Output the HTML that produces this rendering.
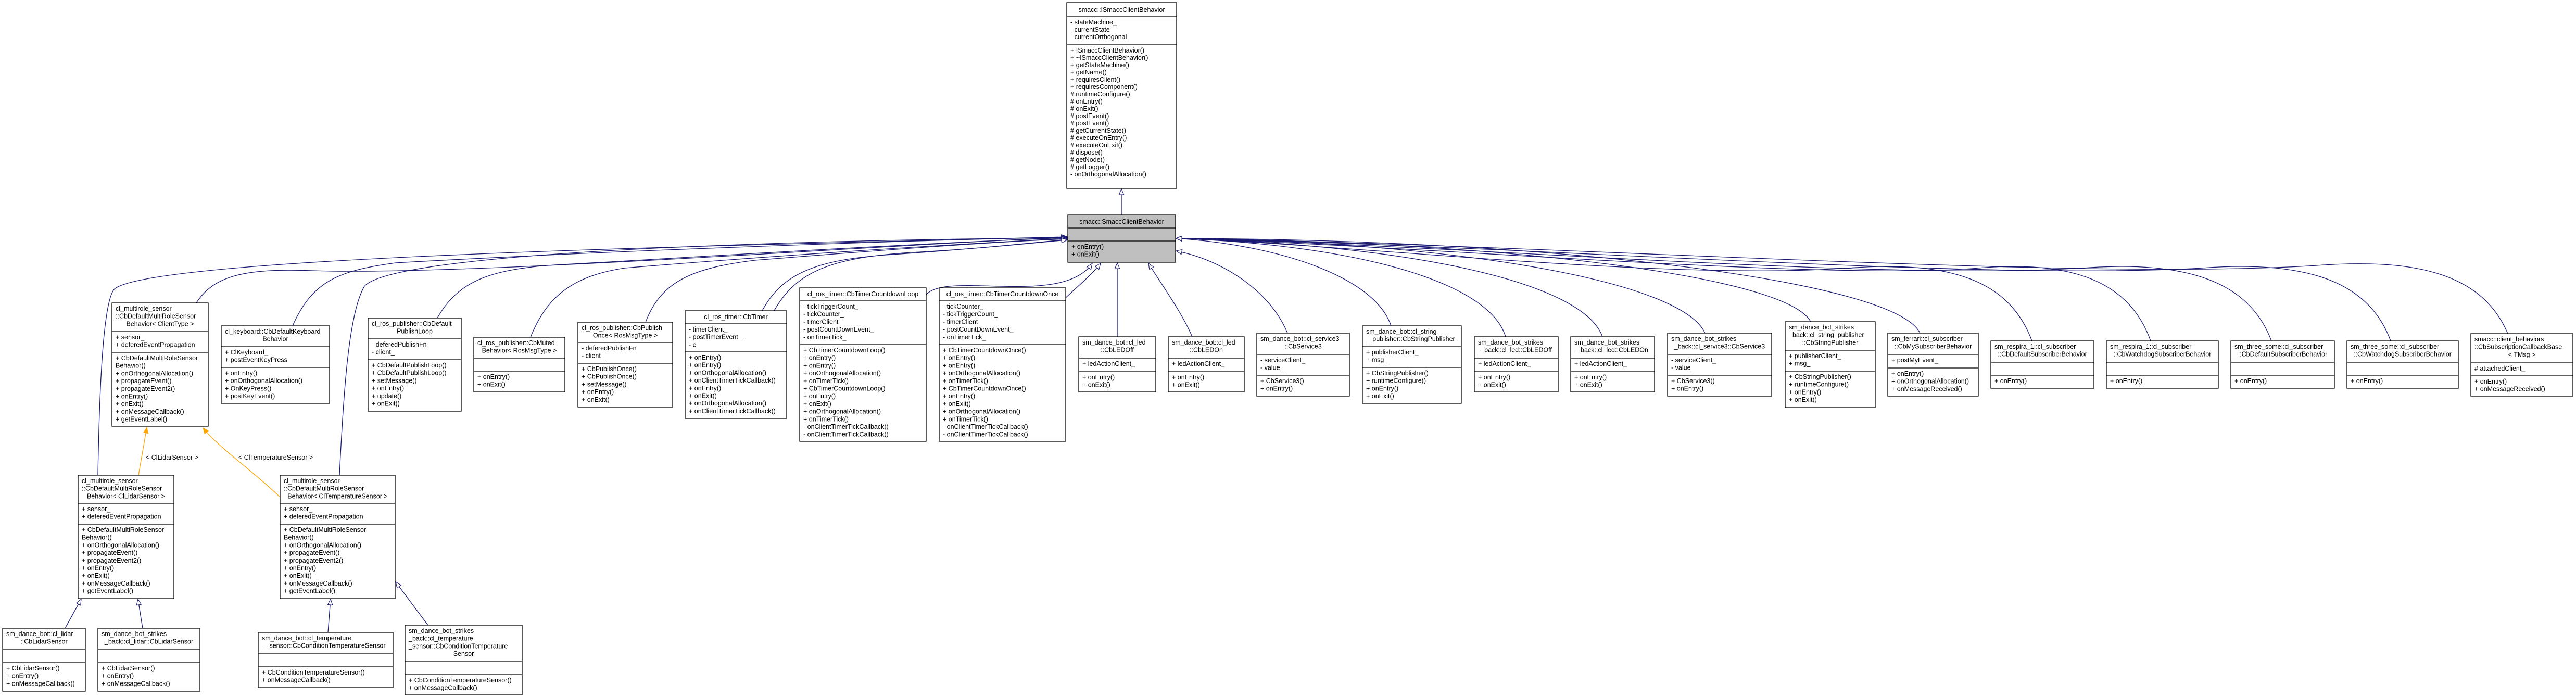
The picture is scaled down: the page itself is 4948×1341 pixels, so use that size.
<!DOCTYPE html>
<html><head><meta charset="utf-8"><style>
html,body{margin:0;padding:0;background:#fff}
svg{display:block}
.b{fill:#fff;stroke:#000;stroke-width:1.3}
.g{fill:#bfbfbf;stroke:#000;stroke-width:1.3}
.d{stroke:#000;stroke-width:1.3}
text{font-family:"Liberation Sans",Arial,sans-serif;font-size:12.5px;fill:#000}
.c{text-anchor:middle}
.e{fill:none;stroke:#191970;stroke-width:1.3}
.o{fill:none;stroke:#ffa500;stroke-width:1.3}
</style></head><body>
<svg width="4948" height="1341" viewBox="0 0 4948 1341" xmlns="http://www.w3.org/2000/svg">
<defs>
<marker id="h" markerWidth="13" markerHeight="11" refX="12" refY="5" orient="auto" markerUnits="userSpaceOnUse" viewBox="-1 -1 14 12"><path d="M0,0 L12,5 L0,10z" fill="#fff" stroke="#191970" stroke-width="1.2"/></marker>
<marker id="oa" markerWidth="13" markerHeight="11" refX="12" refY="5" orient="auto" markerUnits="userSpaceOnUse" viewBox="-1 -1 14 12"><path d="M0,0 L12,5 L0,10z" fill="#ffa500" stroke="#ffa500"/></marker>
</defs>

<!-- edges -->
<path class="e" marker-end="url(#h)" d="M2154,413 L2154,363"/>
<path class="e" marker-end="url(#h)" d="M377,582 C410,530 470,515 600,520 C900,530 1700,470 2050,456"/>
<path class="e" marker-end="url(#h)" d="M188,913 C190,800 195,580 220,555 C300,490 1500,470 2050,455"/>
<path class="e" marker-end="url(#h)" d="M652,913 C660,750 670,600 700,550 C760,480 1600,460 2050,457"/>
<path class="e" marker-end="url(#h)" d="M562,626 C600,540 650,520 760,505 C1200,480 1800,460 2050,456"/>
<path class="e" marker-end="url(#h)" d="M840,611 C880,540 940,520 1050,510 C1400,490 1800,465 2050,457"/>
<path class="e" marker-end="url(#h)" d="M1019,648 C1050,570 1100,530 1200,515 C1500,490 1850,468 2050,458"/>
<path class="e" marker-end="url(#h)" d="M1240,619 C1270,540 1330,515 1450,500 C1700,480 1900,465 2050,459"/>
<path class="e" marker-end="url(#h)" d="M1464,597 C1500,530 1560,500 1700,490 C1850,480 1950,470 2050,460"/>
<path class="e" marker-end="url(#h)" d="M1487,597 C1530,520 1600,495 1750,485 C1880,478 1970,468 2050,461"/>
<path class="e" marker-end="url(#h)" d="M1779,566 C1820,520 2040,590 2098,506"/>
<path class="e" marker-end="url(#h)" d="M2047,572 C2070,550 2095,530 2114,506"/>
<path class="e" marker-end="url(#h)" d="M2146,647 L2146,505"/>
<path class="e" marker-end="url(#h)" d="M2290,647 C2270,600 2230,545 2206,506"/>
<path class="e" marker-end="url(#h)" d="M2473,640 C2440,560 2350,500 2259,482"/>
<path class="e" marker-end="url(#h)" d="M2672,626 C2640,530 2450,470 2259,458"/>
<path class="e" marker-end="url(#h)" d="M2892,647 C2860,540 2600,470 2259,458"/>
<path class="e" marker-end="url(#h)" d="M3078,647 C3040,540 2700,470 2259,458"/>
<path class="e" marker-end="url(#h)" d="M3275,640 C3230,540 2800,465 2259,458"/>
<path class="e" marker-end="url(#h)" d="M3478,618 C3430,530 2900,465 2259,458"/>
<path class="e" marker-end="url(#h)" d="M3688,640 C3640,540 3000,460 2259,458"/>
<path class="e" marker-end="url(#h)" d="M3903,655 C3860,540 3750,500 3550,515 C3200,540 2600,470 2259,458"/>
<path class="e" marker-end="url(#h)" d="M4131,655 C4090,540 3980,500 3800,515 C3500,540 2700,470 2259,458"/>
<path class="e" marker-end="url(#h)" d="M4363,655 C4320,540 4200,500 4000,515 C3600,540 2800,470 2259,458"/>
<path class="e" marker-end="url(#h)" d="M4592,655 C4550,540 4430,500 4230,515 C3800,540 2900,470 2259,458"/>
<path class="e" marker-end="url(#h)" d="M4817,641 C4770,530 4650,495 4450,510 C4000,540 3000,470 2259,458"/>
<path class="e" marker-end="url(#h)" d="M125,1207 L156,1151"/>
<path class="e" marker-end="url(#h)" d="M274,1207 L265,1151"/>
<path class="e" marker-end="url(#h)" d="M630,1215 L635,1151"/>
<path class="e" marker-end="url(#h)" d="M822,1201 L760,1118"/>
<path class="o" marker-end="url(#oa)" d="M266,913 L282,821"/>
<path class="o" marker-end="url(#oa)" d="M538,955 C480,900 420,860 390,822"/>
<text x="280" y="883">&lt; ClLidarSensor &gt;</text>
<text x="458" y="883">&lt; ClTemperatureSensor &gt;</text>

<!-- 1 ISmacc -->
<rect class="b" x="2049" y="5" width="211" height="357"/>
<line class="d" x1="2049" y1="32" x2="2260" y2="32"/><line class="d" x1="2049" y1="86" x2="2260" y2="86"/>
<text class="c" x="2154.5" y="23">smacc::ISmaccClientBehavior</text>
<text x="2056" y="47">- stateMachine_<tspan x="2056" dy="14">- currentState</tspan><tspan x="2056" dy="14">- currentOrthogonal</tspan></text>
<text x="2056" y="101">+ ISmaccClientBehavior()<tspan x="2056" dy="14">+ ~ISmaccClientBehavior()</tspan><tspan x="2056" dy="14">+ getStateMachine()</tspan><tspan x="2056" dy="14">+ getName()</tspan><tspan x="2056" dy="14">+ requiresClient()</tspan><tspan x="2056" dy="14">+ requiresComponent()</tspan><tspan x="2056" dy="14"># runtimeConfigure()</tspan><tspan x="2056" dy="14"># onEntry()</tspan><tspan x="2056" dy="14"># onExit()</tspan><tspan x="2056" dy="14"># postEvent()</tspan><tspan x="2056" dy="14"># postEvent()</tspan><tspan x="2056" dy="14"># getCurrentState()</tspan><tspan x="2056" dy="14"># executeOnEntry()</tspan><tspan x="2056" dy="14"># executeOnExit()</tspan><tspan x="2056" dy="14"># dispose()</tspan><tspan x="2056" dy="14"># getNode()</tspan><tspan x="2056" dy="14"># getLogger()</tspan><tspan x="2056" dy="14">- onOrthogonalAllocation()</tspan></text>

<!-- 2 gray -->
<rect class="g" x="2051" y="413" width="207" height="91"/>
<line class="d" x1="2051" y1="438" x2="2258" y2="438"/><line class="d" x1="2051" y1="463" x2="2258" y2="463"/>
<text class="c" x="2154.5" y="430">smacc::SmaccClientBehavior</text>
<text x="2058" y="478">+ onEntry()<tspan x="2058" dy="14.7">+ onExit()</tspan></text>

<!-- 3 ClientType -->
<rect class="b" x="215" y="582" width="185" height="237"/>
<line class="d" x1="215" y1="637" x2="400" y2="637"/><line class="d" x1="215" y1="677" x2="400" y2="677"/>
<text x="222" y="597">cl_multirole_sensor<tspan x="222" dy="14.7">::CbDefaultMultiRoleSensor</tspan></text>
<text class="c" x="307.5" y="626.4">Behavior&lt; ClientType &gt;</text>
<text x="222" y="652">+ sensor_<tspan x="222" dy="14.7">+ deferedEventPropagation</tspan></text>
<text x="222" y="692">+ CbDefaultMultiRoleSensor<tspan x="222" dy="14.7">Behavior()</tspan><tspan x="222" dy="14.7">+ onOrthogonalAllocation()</tspan><tspan x="222" dy="14.7">+ propagateEvent()</tspan><tspan x="222" dy="14.7">+ propagateEvent2()</tspan><tspan x="222" dy="14.7">+ onEntry()</tspan><tspan x="222" dy="14.7">+ onExit()</tspan><tspan x="222" dy="14.7">+ onMessageCallback()</tspan><tspan x="222" dy="14.7">+ getEventLabel()</tspan></text>

<!-- 4 Keyboard -->
<rect class="b" x="425" y="626" width="208" height="149"/>
<line class="d" x1="425" y1="666" x2="633" y2="666"/><line class="d" x1="425" y1="706" x2="633" y2="706"/>
<text x="432" y="641">cl_keyboard::CbDefaultKeyboard</text>
<text class="c" x="529" y="655.7">Behavior</text>
<text x="432" y="681">+ ClKeyboard_<tspan x="432" dy="14.7">+ postEventKeyPress</tspan></text>
<text x="432" y="721">+ onEntry()<tspan x="432" dy="14.7">+ onOrthogonalAllocation()</tspan><tspan x="432" dy="14.7">+ OnKeyPress()</tspan><tspan x="432" dy="14.7">+ postKeyEvent()</tspan></text>

<!-- 5 PublishLoop -->
<rect class="b" x="707" y="611" width="179" height="179"/>
<line class="d" x1="707" y1="651" x2="886" y2="651"/><line class="d" x1="707" y1="691" x2="886" y2="691"/>
<text x="714" y="626">cl_ros_publisher::CbDefault</text>
<text class="c" x="796.5" y="640.7">PublishLoop</text>
<text x="714" y="666">- deferedPublishFn<tspan x="714" dy="14.7">- client_</tspan></text>
<text x="714" y="706">+ CbDefaultPublishLoop()<tspan x="714" dy="14.7">+ CbDefaultPublishLoop()</tspan><tspan x="714" dy="14.7">+ setMessage()</tspan><tspan x="714" dy="14.7">+ onEntry()</tspan><tspan x="714" dy="14.7">+ update()</tspan><tspan x="714" dy="14.7">+ onExit()</tspan></text>

<!-- 6 Muted -->
<rect class="b" x="910" y="648" width="175" height="105"/>
<line class="d" x1="910" y1="688" x2="1085" y2="688"/><line class="d" x1="910" y1="713" x2="1085" y2="713"/>
<text x="917" y="663">cl_ros_publisher::CbMuted</text>
<text class="c" x="997.5" y="677.7">Behavior&lt; RosMsgType &gt;</text>
<text x="917" y="728">+ onEntry()<tspan x="917" dy="14.7">+ onExit()</tspan></text>

<!-- 7 PublishOnce -->
<rect class="b" x="1110" y="619" width="182" height="163"/>
<line class="d" x1="1110" y1="658" x2="1292" y2="658"/><line class="d" x1="1110" y1="698" x2="1292" y2="698"/>
<text x="1117" y="634">cl_ros_publisher::CbPublish</text>
<text class="c" x="1201" y="648.7">Once&lt; RosMsgType &gt;</text>
<text x="1117" y="673">- deferedPublishFn<tspan x="1117" dy="14.7">- client_</tspan></text>
<text x="1117" y="713">+ CbPublishOnce()<tspan x="1117" dy="14.7">+ CbPublishOnce()</tspan><tspan x="1117" dy="14.7">+ setMessage()</tspan><tspan x="1117" dy="14.7">+ onEntry()</tspan><tspan x="1117" dy="14.7">+ onExit()</tspan></text>

<!-- 8 CbTimer -->
<rect class="b" x="1316" y="597" width="195" height="207"/>
<line class="d" x1="1316" y1="622" x2="1511" y2="622"/><line class="d" x1="1316" y1="676" x2="1511" y2="676"/>
<text class="c" x="1413.5" y="613">cl_ros_timer::CbTimer</text>
<text x="1323" y="637">- timerClient_<tspan x="1323" dy="14.7">- postTimerEvent_</tspan><tspan x="1323" dy="14.7">- c_</tspan></text>
<text x="1323" y="691">+ onEntry()<tspan x="1323" dy="14.7">+ onEntry()</tspan><tspan x="1323" dy="14.7">+ onOrthogonalAllocation()</tspan><tspan x="1323" dy="14.7">+ onClientTimerTickCallback()</tspan><tspan x="1323" dy="14.7">+ onEntry()</tspan><tspan x="1323" dy="14.7">+ onExit()</tspan><tspan x="1323" dy="14.7">+ onOrthogonalAllocation()</tspan><tspan x="1323" dy="14.7">+ onClientTimerTickCallback()</tspan></text>

<!-- 9 Loop -->
<rect class="b" x="1536" y="553" width="243" height="295"/>
<line class="d" x1="1536" y1="578" x2="1779" y2="578"/><line class="d" x1="1536" y1="662" x2="1779" y2="662"/>
<text class="c" x="1657.5" y="569">cl_ros_timer::CbTimerCountdownLoop</text>
<text x="1543" y="593">- tickTriggerCount_<tspan x="1543" dy="14.7">- tickCounter_</tspan><tspan x="1543" dy="14.7">- timerClient_</tspan><tspan x="1543" dy="14.7">- postCountDownEvent_</tspan><tspan x="1543" dy="14.7">- onTimerTick_</tspan></text>
<text x="1543" y="677">+ CbTimerCountdownLoop()<tspan x="1543" dy="14.7">+ onEntry()</tspan><tspan x="1543" dy="14.7">+ onEntry()</tspan><tspan x="1543" dy="14.7">+ onOrthogonalAllocation()</tspan><tspan x="1543" dy="14.7">+ onTimerTick()</tspan><tspan x="1543" dy="14.7">+ CbTimerCountdownLoop()</tspan><tspan x="1543" dy="14.7">+ onEntry()</tspan><tspan x="1543" dy="14.7">+ onExit()</tspan><tspan x="1543" dy="14.7">+ onOrthogonalAllocation()</tspan><tspan x="1543" dy="14.7">+ onTimerTick()</tspan><tspan x="1543" dy="14.7">- onClientTimerTickCallback()</tspan><tspan x="1543" dy="14.7">- onClientTimerTickCallback()</tspan></text>

<!-- 10 Once -->
<rect class="b" x="1804" y="553" width="243" height="295"/>
<line class="d" x1="1804" y1="578" x2="2047" y2="578"/><line class="d" x1="1804" y1="662" x2="2047" y2="662"/>
<text class="c" x="1925.5" y="569">cl_ros_timer::CbTimerCountdownOnce</text>
<text x="1811" y="593">- tickCounter_<tspan x="1811" dy="14.7">- tickTriggerCount_</tspan><tspan x="1811" dy="14.7">- timerClient_</tspan><tspan x="1811" dy="14.7">- postCountDownEvent_</tspan><tspan x="1811" dy="14.7">- onTimerTick_</tspan></text>
<text x="1811" y="677">+ CbTimerCountdownOnce()<tspan x="1811" dy="14.7">+ onEntry()</tspan><tspan x="1811" dy="14.7">+ onEntry()</tspan><tspan x="1811" dy="14.7">+ onOrthogonalAllocation()</tspan><tspan x="1811" dy="14.7">+ onTimerTick()</tspan><tspan x="1811" dy="14.7">+ CbTimerCountdownOnce()</tspan><tspan x="1811" dy="14.7">+ onEntry()</tspan><tspan x="1811" dy="14.7">+ onExit()</tspan><tspan x="1811" dy="14.7">+ onOrthogonalAllocation()</tspan><tspan x="1811" dy="14.7">+ onTimerTick()</tspan><tspan x="1811" dy="14.7">- onClientTimerTickCallback()</tspan><tspan x="1811" dy="14.7">- onClientTimerTickCallback()</tspan></text>

<!-- 11 LEDOff -->
<rect class="b" x="2072" y="647" width="148" height="106"/>
<line class="d" x1="2072" y1="688" x2="2220" y2="688"/><line class="d" x1="2072" y1="714" x2="2220" y2="714"/>
<text x="2079" y="662">sm_dance_bot::cl_led</text>
<text class="c" x="2146" y="676.7">::CbLEDOff</text>
<text x="2079" y="703">+ ledActionClient_</text>
<text x="2079" y="729">+ onEntry()<tspan x="2079" dy="14.7">+ onExit()</tspan></text>

<!-- 12 LEDOn -->
<rect class="b" x="2244" y="647" width="146" height="106"/>
<line class="d" x1="2244" y1="688" x2="2390" y2="688"/><line class="d" x1="2244" y1="714" x2="2390" y2="714"/>
<text x="2251" y="662">sm_dance_bot::cl_led</text>
<text class="c" x="2317" y="676.7">::CbLEDOn</text>
<text x="2251" y="703">+ ledActionClient_</text>
<text x="2251" y="729">+ onEntry()<tspan x="2251" dy="14.7">+ onExit()</tspan></text>

<!-- 13 Service3 -->
<rect class="b" x="2414" y="640" width="178" height="121"/>
<line class="d" x1="2414" y1="681" x2="2592" y2="681"/><line class="d" x1="2414" y1="721" x2="2592" y2="721"/>
<text x="2421" y="655">sm_dance_bot::cl_service3</text>
<text class="c" x="2503" y="669.7">::CbService3</text>
<text x="2421" y="696">- serviceClient_<tspan x="2421" dy="14.7">- value_</tspan></text>
<text x="2421" y="736">+ CbService3()<tspan x="2421" dy="14.7">+ onEntry()</tspan></text>

<!-- 14 StringPublisher -->
<rect class="b" x="2617" y="626" width="190" height="149"/>
<line class="d" x1="2617" y1="666" x2="2807" y2="666"/><line class="d" x1="2617" y1="706" x2="2807" y2="706"/>
<text x="2624" y="641">sm_dance_bot::cl_string</text>
<text class="c" x="2712" y="655.7">_publisher::CbStringPublisher</text>
<text x="2624" y="681">+ publisherClient_<tspan x="2624" dy="14.7">+ msg_</tspan></text>
<text x="2624" y="721">+ CbStringPublisher()<tspan x="2624" dy="14.7">+ runtimeConfigure()</tspan><tspan x="2624" dy="14.7">+ onEntry()</tspan><tspan x="2624" dy="14.7">+ onExit()</tspan></text>

<!-- 15 strikes LEDOff -->
<rect class="b" x="2832" y="647" width="161" height="106"/>
<line class="d" x1="2832" y1="688" x2="2993" y2="688"/><line class="d" x1="2832" y1="714" x2="2993" y2="714"/>
<text x="2839" y="662">sm_dance_bot_strikes</text>
<text class="c" x="2912.5" y="676.7">_back::cl_led::CbLEDOff</text>
<text x="2839" y="703">+ ledActionClient_</text>
<text x="2839" y="729">+ onEntry()<tspan x="2839" dy="14.7">+ onExit()</tspan></text>

<!-- 16 strikes LEDOn -->
<rect class="b" x="3017" y="647" width="161" height="106"/>
<line class="d" x1="3017" y1="688" x2="3178" y2="688"/><line class="d" x1="3017" y1="714" x2="3178" y2="714"/>
<text x="3024" y="662">sm_dance_bot_strikes</text>
<text class="c" x="3097.5" y="676.7">_back::cl_led::CbLEDOn</text>
<text x="3024" y="703">+ ledActionClient_</text>
<text x="3024" y="729">+ onEntry()<tspan x="3024" dy="14.7">+ onExit()</tspan></text>

<!-- 17 strikes Service3 -->
<rect class="b" x="3203" y="640" width="200" height="121"/>
<line class="d" x1="3203" y1="681" x2="3403" y2="681"/><line class="d" x1="3203" y1="721" x2="3403" y2="721"/>
<text x="3210" y="655">sm_dance_bot_strikes</text>
<text class="c" x="3303" y="669.7">_back::cl_service3::CbService3</text>
<text x="3210" y="696">- serviceClient_<tspan x="3210" dy="14.7">- value_</tspan></text>
<text x="3210" y="736">+ CbService3()<tspan x="3210" dy="14.7">+ onEntry()</tspan></text>

<!-- 18 strikes StringPub -->
<rect class="b" x="3429" y="618" width="173" height="165"/>
<line class="d" x1="3429" y1="673" x2="3602" y2="673"/><line class="d" x1="3429" y1="713" x2="3602" y2="713"/>
<text x="3436" y="633">sm_dance_bot_strikes<tspan x="3436" dy="14.7">_back::cl_string_publisher</tspan></text>
<text class="c" x="3515.5" y="662.4">::CbStringPublisher</text>
<text x="3436" y="688">+ publisherClient_<tspan x="3436" dy="14.7">+ msg_</tspan></text>
<text x="3436" y="728">+ CbStringPublisher()<tspan x="3436" dy="14.7">+ runtimeConfigure()</tspan><tspan x="3436" dy="14.7">+ onEntry()</tspan><tspan x="3436" dy="14.7">+ onExit()</tspan></text>

<!-- 19 MySub -->
<rect class="b" x="3626" y="640" width="174" height="121"/>
<line class="d" x1="3626" y1="681" x2="3800" y2="681"/><line class="d" x1="3626" y1="707" x2="3800" y2="707"/>
<text x="3633" y="655">sm_ferrari::cl_subscriber</text>
<text class="c" x="3713" y="669.7">::CbMySubscriberBehavior</text>
<text x="3633" y="696">+ postMyEvent_</text>
<text x="3633" y="722">+ onEntry()<tspan x="3633" dy="14.7">+ onOrthogonalAllocation()</tspan><tspan x="3633" dy="14.7">+ onMessageReceived()</tspan></text>

<!-- 20 respira Default -->
<rect class="b" x="3824" y="655" width="198" height="91"/>
<line class="d" x1="3824" y1="696" x2="4022" y2="696"/><line class="d" x1="3824" y1="721" x2="4022" y2="721"/>
<text x="3831" y="670">sm_respira_1::cl_subscriber</text>
<text class="c" x="3923" y="684.7">::CbDefaultSubscriberBehavior</text>
<text x="3831" y="736">+ onEntry()</text>

<!-- 21 respira Watchdog -->
<rect class="b" x="4046" y="655" width="215" height="91"/>
<line class="d" x1="4046" y1="696" x2="4261" y2="696"/><line class="d" x1="4046" y1="721" x2="4261" y2="721"/>
<text x="4053" y="670">sm_respira_1::cl_subscriber</text>
<text class="c" x="4153.5" y="684.7">::CbWatchdogSubscriberBehavior</text>
<text x="4053" y="736">+ onEntry()</text>

<!-- 22 three Default -->
<rect class="b" x="4285" y="655" width="199" height="91"/>
<line class="d" x1="4285" y1="696" x2="4484" y2="696"/><line class="d" x1="4285" y1="721" x2="4484" y2="721"/>
<text x="4292" y="670">sm_three_some::cl_subscriber</text>
<text class="c" x="4384.5" y="684.7">::CbDefaultSubscriberBehavior</text>
<text x="4292" y="736">+ onEntry()</text>

<!-- 23 three Watchdog -->
<rect class="b" x="4508" y="655" width="214" height="91"/>
<line class="d" x1="4508" y1="696" x2="4722" y2="696"/><line class="d" x1="4508" y1="721" x2="4722" y2="721"/>
<text x="4515" y="670">sm_three_some::cl_subscriber</text>
<text class="c" x="4615" y="684.7">::CbWatchdogSubscriberBehavior</text>
<text x="4515" y="736">+ onEntry()</text>

<!-- 24 Subscription -->
<rect class="b" x="4746" y="641" width="196" height="120"/>
<line class="d" x1="4746" y1="697" x2="4942" y2="697"/><line class="d" x1="4746" y1="722" x2="4942" y2="722"/>
<text x="4753" y="656">smacc::client_behaviors<tspan x="4753" dy="14.7">::CbSubscriptionCallbackBase</tspan></text>
<text class="c" x="4844" y="685.4">&lt; TMsg &gt;</text>
<text x="4753" y="712"># attachedClient_</text>
<text x="4753" y="737">+ onEntry()<tspan x="4753" dy="14.7">+ onMessageReceived()</tspan></text>

<!-- 25 Lidar multirole -->
<rect class="b" x="150" y="913" width="184" height="237"/>
<line class="d" x1="150" y1="967" x2="334" y2="967"/><line class="d" x1="150" y1="1007" x2="334" y2="1007"/>
<text x="157" y="928">cl_multirole_sensor<tspan x="157" dy="14.7">::CbDefaultMultiRoleSensor</tspan></text>
<text class="c" x="242" y="957.4">Behavior&lt; ClLidarSensor &gt;</text>
<text x="157" y="982">+ sensor_<tspan x="157" dy="14.7">+ deferedEventPropagation</tspan></text>
<text x="157" y="1022">+ CbDefaultMultiRoleSensor<tspan x="157" dy="14.7">Behavior()</tspan><tspan x="157" dy="14.7">+ onOrthogonalAllocation()</tspan><tspan x="157" dy="14.7">+ propagateEvent()</tspan><tspan x="157" dy="14.7">+ propagateEvent2()</tspan><tspan x="157" dy="14.7">+ onEntry()</tspan><tspan x="157" dy="14.7">+ onExit()</tspan><tspan x="157" dy="14.7">+ onMessageCallback()</tspan><tspan x="157" dy="14.7">+ getEventLabel()</tspan></text>

<!-- 26 Temp multirole -->
<rect class="b" x="538" y="913" width="221" height="237"/>
<line class="d" x1="538" y1="967" x2="759" y2="967"/><line class="d" x1="538" y1="1007" x2="759" y2="1007"/>
<text x="545" y="928">cl_multirole_sensor<tspan x="545" dy="14.7">::CbDefaultMultiRoleSensor</tspan></text>
<text class="c" x="648.5" y="957.4">Behavior&lt; ClTemperatureSensor &gt;</text>
<text x="545" y="982">+ sensor_<tspan x="545" dy="14.7">+ deferedEventPropagation</tspan></text>
<text x="545" y="1022">+ CbDefaultMultiRoleSensor<tspan x="545" dy="14.7">Behavior()</tspan><tspan x="545" dy="14.7">+ onOrthogonalAllocation()</tspan><tspan x="545" dy="14.7">+ propagateEvent()</tspan><tspan x="545" dy="14.7">+ propagateEvent2()</tspan><tspan x="545" dy="14.7">+ onEntry()</tspan><tspan x="545" dy="14.7">+ onExit()</tspan><tspan x="545" dy="14.7">+ onMessageCallback()</tspan><tspan x="545" dy="14.7">+ getEventLabel()</tspan></text>

<!-- 27 LidarLeaf -->
<rect class="b" x="5" y="1207" width="159" height="121"/>
<line class="d" x1="5" y1="1247" x2="164" y2="1247"/><line class="d" x1="5" y1="1273" x2="164" y2="1273"/>
<text x="12" y="1222">sm_dance_bot::cl_lidar</text>
<text class="c" x="84.5" y="1236.7">::CbLidarSensor</text>
<text x="12" y="1288">+ CbLidarSensor()<tspan x="12" dy="14.7">+ onEntry()</tspan><tspan x="12" dy="14.7">+ onMessageCallback()</tspan></text>

<!-- 28 strikes lidar -->
<rect class="b" x="188" y="1207" width="196" height="121"/>
<line class="d" x1="188" y1="1247" x2="384" y2="1247"/><line class="d" x1="188" y1="1273" x2="384" y2="1273"/>
<text x="195" y="1222">sm_dance_bot_strikes</text>
<text class="c" x="286" y="1236.7">_back::cl_lidar::CbLidarSensor</text>
<text x="195" y="1288">+ CbLidarSensor()<tspan x="195" dy="14.7">+ onEntry()</tspan><tspan x="195" dy="14.7">+ onMessageCallback()</tspan></text>

<!-- 29 temp cond -->
<rect class="b" x="496" y="1215" width="259" height="106"/>
<line class="d" x1="496" y1="1255" x2="755" y2="1255"/><line class="d" x1="496" y1="1281" x2="755" y2="1281"/>
<text x="503" y="1230">sm_dance_bot::cl_temperature</text>
<text class="c" x="625.5" y="1244.7">_sensor::CbConditionTemperatureSensor</text>
<text x="503" y="1296">+ CbConditionTemperatureSensor()<tspan x="503" dy="14.7">+ onMessageCallback()</tspan></text>

<!-- 30 strikes temp -->
<rect class="b" x="778" y="1201" width="225" height="134"/>
<line class="d" x1="778" y1="1270" x2="1003" y2="1270"/><line class="d" x1="778" y1="1296" x2="1003" y2="1296"/>
<text x="785" y="1216">sm_dance_bot_strikes<tspan x="785" dy="14.7">_back::cl_temperature</tspan><tspan x="785" dy="14.7">_sensor::CbConditionTemperature</tspan></text>
<text class="c" x="890.5" y="1260.1">Sensor</text>
<text x="785" y="1311">+ CbConditionTemperatureSensor()<tspan x="785" dy="14.7">+ onMessageCallback()</tspan></text>
</svg>
</body></html>
